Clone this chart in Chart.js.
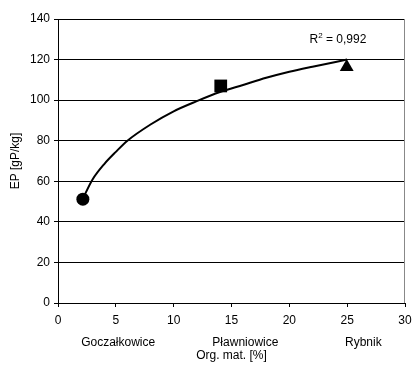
<!DOCTYPE html>
<html><head><meta charset="utf-8">
<script src="https://cdn.jsdelivr.net/npm/chart.js@4"></script>
<style>html,body{margin:0;padding:0;background:#fff}#w{width:414px;height:365px}</style>
</head><body><div id="w"><canvas id="c"></canvas></div>
<script>
// Measured points
const siteNames = ['Goczałkowice', 'Pławniowice', 'Rybnik'];
const orgMat = [2.15, 14.07, 24.96];
const epValues = [51.2, 107, 116.3];
const pointShapes = ['circle', 'rect', 'triangle'];
// Trend line
const trendX = [2.15, 3, 4, 5, 6, 8, 10, 12, 14, 16, 18, 20, 22, 25];
const trendY = [51.5, 61, 68.5, 74.5, 80, 88, 94.5, 99.5, 104, 107.5, 111, 114, 116.5, 120];
const xTicks = [0, 5, 10, 15, 20, 25, 30];
const yTicks = [0, 20, 40, 60, 80, 100, 120, 140];
const xTitle = 'Org. mat. [%]';
const yTitle = 'EP [gP/kg]';

const FONT = 'Liberation Sans, Arial, sans-serif';
const siteLabelX = [5.2, 16.2, 26.4];

const textPlugin = {
  id: 'texts',
  afterDraw(chart) {
    const {ctx, chartArea, scales} = chart;
    const x = scales.x, y = scales.y;
    ctx.save();
    ctx.strokeStyle = '#888';
    ctx.lineWidth = 1;
    ctx.beginPath();
    ctx.moveTo(chartArea.right - 0.5, chartArea.top);
    ctx.lineTo(chartArea.right - 0.5, chartArea.bottom);
    ctx.stroke();
    ctx.fillStyle = '#000';
    ctx.font = '12px ' + FONT;
    ctx.textAlign = 'center';
    ctx.textBaseline = 'middle';
    siteNames.forEach((n, i) => ctx.fillText(n, x.getPixelForValue(siteLabelX[i]), 343));
    ctx.fillText(xTitle, (chartArea.left + chartArea.right) / 2, 356);
    // R2
    ctx.textAlign = 'left';
    const rx = x.getPixelForValue(21.75), ry = y.getPixelForValue(129.6);
    ctx.fillText('R', rx, ry);
    const w = ctx.measureText('R').width;
    ctx.font = '8px ' + FONT;
    ctx.fillText('2', rx + w, ry - 4);
    const w2 = ctx.measureText('2').width;
    ctx.font = '12px ' + FONT;
    ctx.fillText(' = 0,992', rx + w + w2, ry);
    // y title
    ctx.translate(16, (chartArea.top + chartArea.bottom) / 2);
    ctx.rotate(-Math.PI / 2);
    ctx.textAlign = 'center';
    ctx.fillText(yTitle, 0, 0);
    ctx.restore();
  }
};

new Chart(document.getElementById('c'), {
  type: 'scatter',
  data: {
    datasets: [
      {
        data: trendX.map((v, i) => ({x: v, y: trendY[i]})),
        showLine: true,
        borderColor: '#000',
        borderWidth: 2,
        pointRadius: 0,
        tension: 0.4,
        cubicInterpolationMode: 'monotone',
        order: 2
      },
      {
        data: orgMat.map((v, i) => ({x: v, y: epValues[i]})),
        pointStyle: pointShapes,
        pointRadius: [6.5, 9, 8],
        backgroundColor: '#000',
        borderColor: '#000',
        borderWidth: 0,
        order: 1
      }
    ]
  },
  options: {
    responsive: true,
    maintainAspectRatio: false,
    animation: false,
    devicePixelRatio: 1,
    layout: {padding: {top: 19, right: 4, left: 0, bottom: 0}},
    plugins: {legend: {display: false}, tooltip: {enabled: false}},
    scales: {
      x: {
        type: 'linear', min: 0, max: 30,
        afterBuildTicks: s => { s.ticks = xTicks.map(v => ({value: v})); },
        afterFit: s => { s.height = 62; s.paddingRight = 0; s.paddingLeft = 0; },
        grid: {display: true, drawOnChartArea: false, drawTicks: true, tickLength: 4, color: '#000'},
        border: {color: '#000', width: 1},
        ticks: {color: '#000', font: {family: FONT, size: 12}, padding: 6, maxRotation: 0}
      },
      y: {
        type: 'linear', min: 0, max: 140,
        afterBuildTicks: s => { s.ticks = yTicks.map(v => ({value: v})); },
        afterFit: s => { s.width = 58; },
        grid: {color: '#000', lineWidth: 1, tickLength: 4},
        border: {color: '#000', width: 1},
        ticks: {color: '#000', font: {family: FONT, size: 12}, padding: 4}
      }
    }
  },
  plugins: [textPlugin]
});
</script>
</body></html>
